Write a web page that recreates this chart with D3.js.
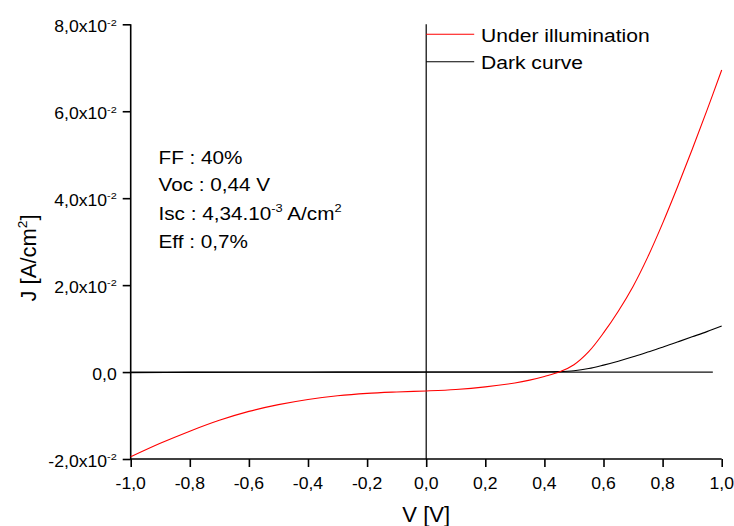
<!DOCTYPE html>
<html>
<head>
<meta charset="utf-8">
<script src="https://cdn.jsdelivr.net/npm/d3@7"></script>
<style>
  body { margin: 0; background: #fff; }
  svg { display: block; }
  text { font-family: "Liberation Sans", Arial, Helvetica, sans-serif; fill: #000; }
</style>
</head>
<body>
<svg id="chart" width="734" height="526"></svg>
<script>
// J–V characteristics (V in volts, J in A/cm²)
const illumV = [-1.0, -0.9, -0.8, -0.7, -0.6, -0.5, -0.4, -0.3, -0.2, -0.1, 0.0, 0.1, 0.2, 0.3, 0.35, 0.4, 0.45, 0.5, 0.55, 0.6, 0.65, 0.7, 0.75, 0.8, 0.85, 0.9, 0.95, 1.0];
const illumJ = [-0.0195, -0.0164, -0.0136, -0.0111, -0.00905, -0.0075, -0.0063, -0.00545, -0.0049, -0.00458, -0.00434, -0.0040, -0.0034, -0.0025, -0.00185, -0.0010, 0.0, 0.0017, 0.0047, 0.0090, 0.0140, 0.0197, 0.0265, 0.0342, 0.0425, 0.0512, 0.0602, 0.0695];

const darkV = [-1.0, -0.8, -0.6, -0.4, -0.2, 0.0, 0.2, 0.4, 0.45, 0.5, 0.55, 0.6, 0.65, 0.7, 0.75, 0.8, 0.85, 0.9, 0.95, 1.0];
const darkJ = [-0.00012, -0.00008, -0.00005, -0.00003, -0.00002, 0.0, 0.00002, 0.00005, 0.0001, 0.0003, 0.0008, 0.0016, 0.0025, 0.0035, 0.0046, 0.0057, 0.0069, 0.0081, 0.0093, 0.0106];

// reference lines: J = 0 and V = 0
const zeroLineV = [-1.0, 0.97];
const zeroLineJ = [0.0, 0.0];
const originLineV = [0.0, 0.0];
const originLineJ = [-0.02, 0.08];

const xTicks = [-1.0, -0.8, -0.6, -0.4, -0.2, 0.0, 0.2, 0.4, 0.6, 0.8, 1.0];
const xMinorTicks = d3.range(-9, 10, 2).map(d => d / 10);
const yTicks = [-0.02, 0.0, 0.02, 0.04, 0.06, 0.08];
const yMinorTicks = [-0.01, 0.01, 0.03, 0.05, 0.07];

const seriesNames = ["Under illumination", "Dark curve"];
const seriesColors = ["#ff0000", "#000000"];

const infoLines = [
  ["FF : 40%"],
  ["Voc : 0,44 V"],
  ["Isc : 4,34.10", "-3", " A/cm", "2"],
  ["Eff : 0,7%"]
];

const xTitle = ["V [V]"];
const yTitle = ["J [A/cm", "2", "]"];

const svg = d3.select("#chart");
const x = d3.scaleLinear().domain([-1, 1]).range([130.7, 721.7]);
const y = d3.scaleLinear().domain([-0.02, 0.08]).range([459, 24.3]);

// text with alternating normal / superscript segments
function richText(parent, px, py, parts, size, anchor, transformExtra) {
  const t = parent.append("text")
    .attr("transform", `translate(${px},${py}) ${transformExtra || ""}`)
    .attr("font-size", size)
    .attr("text-anchor", anchor);
  let raised = false;
  parts.forEach((p, i) => {
    if (p === "") return;
    const sup = i % 2 === 1;
    const ts = t.append("tspan").text(p);
    if (sup) {
      ts.attr("font-size", size * 0.62).attr("dy", -size * 0.42);
      raised = true;
    } else {
      ts.attr("font-size", size);
      if (raised) { ts.attr("dy", size * 0.42); raised = false; }
    }
  });
  return t;
}

function commaNum(v) {
  const s = Math.abs(v).toFixed(1).replace(".", ",");
  return (v < -1e-9 ? "-" : "") + s;
}

// axes
const axisColor = "#000";
const gx = svg.append("g").attr("transform", `translate(0,${y(-0.02)})`);
gx.call(d3.axisBottom(x).tickValues(xMinorTicks).tickSize(5).tickSizeOuter(0).tickFormat(""));
gx.call(d3.axisBottom(x).tickValues(xTicks).tickSize(8).tickSizeOuter(0).tickFormat(""));
gx.selectAll("path.domain").remove();
gx.append("line").attr("x1", x(-1)).attr("x2", x(1)).attr("y1", 0).attr("y2", 0);
gx.selectAll("line").attr("stroke", axisColor).attr("stroke-width", 1.6);

const gy = svg.append("g").attr("transform", `translate(${x(-1)},0)`);
gy.call(d3.axisLeft(y).tickValues(yMinorTicks).tickSize(5).tickSizeOuter(0).tickFormat(""));
gy.call(d3.axisLeft(y).tickValues(yTicks).tickSize(8).tickSizeOuter(0).tickFormat(""));
gy.selectAll("path.domain").remove();
gy.append("line").attr("x1", 0).attr("x2", 0).attr("y1", y(-0.02) + 0.8).attr("y2", y(0.08));
gy.selectAll("line").attr("stroke", axisColor).attr("stroke-width", 1.6);

// tick labels
const SX = 1.1;
xTicks.forEach(v => {
  richText(svg, x(v), y(-0.02) + 30, [commaNum(v)], 16, "middle", `scale(${SX},1)`);
});
yTicks.forEach(v => {
  const parts = Math.abs(v) < 1e-12 ? ["0,0"] : [commaNum(v / 0.01) + "x10", "-2"];
  richText(svg, x(-1) - 14, y(v) + 8, parts, 16, "end", `scale(${SX},1)`);
});

// axis titles
richText(svg, x(0), 522, xTitle, 22, "middle", "");
richText(svg, 36, 258, yTitle, 22, "middle", "rotate(-90)");

// reference lines
const line = d3.line().x(d => x(d[0])).y(d => y(d[1]));
svg.append("path").datum(d3.zip(zeroLineV, zeroLineJ))
  .attr("d", line).attr("fill", "none").attr("stroke", "#111").attr("stroke-width", 1.2);
svg.append("path").datum(d3.zip(originLineV, originLineJ))
  .attr("d", line).attr("fill", "none").attr("stroke", "#000").attr("stroke-width", 1.2);

// curves
const curve = d3.line().x(d => x(d[0])).y(d => y(d[1])).curve(d3.curveCatmullRom.alpha(0.5));
svg.append("path").datum(d3.zip(darkV, darkJ))
  .attr("d", curve).attr("fill", "none").attr("stroke", seriesColors[1]).attr("stroke-width", 1.1);
svg.append("path").datum(d3.zip(illumV, illumJ))
  .attr("d", curve).attr("fill", "none").attr("stroke", seriesColors[0]).attr("stroke-width", 1.1);

// legend
const legendY = [34.3, 61.7];
seriesNames.forEach((name, i) => {
  svg.append("line")
    .attr("x1", x(0)).attr("x2", x(0) + 48)
    .attr("y1", legendY[i]).attr("y2", legendY[i])
    .attr("stroke", seriesColors[i]).attr("stroke-width", 1.1);
  richText(svg, 481, legendY[i] + 7.5, [name], 18.5, "start", "scale(1.14,1)");
});

// cell parameters
const infoBase = [164, 190.7, 220, 248.3];
infoLines.forEach((parts, i) => {
  richText(svg, 158.5, infoBase[i], parts, 18.5, "start", "scale(1.12,1)");
});
</script>
</body>
</html>
